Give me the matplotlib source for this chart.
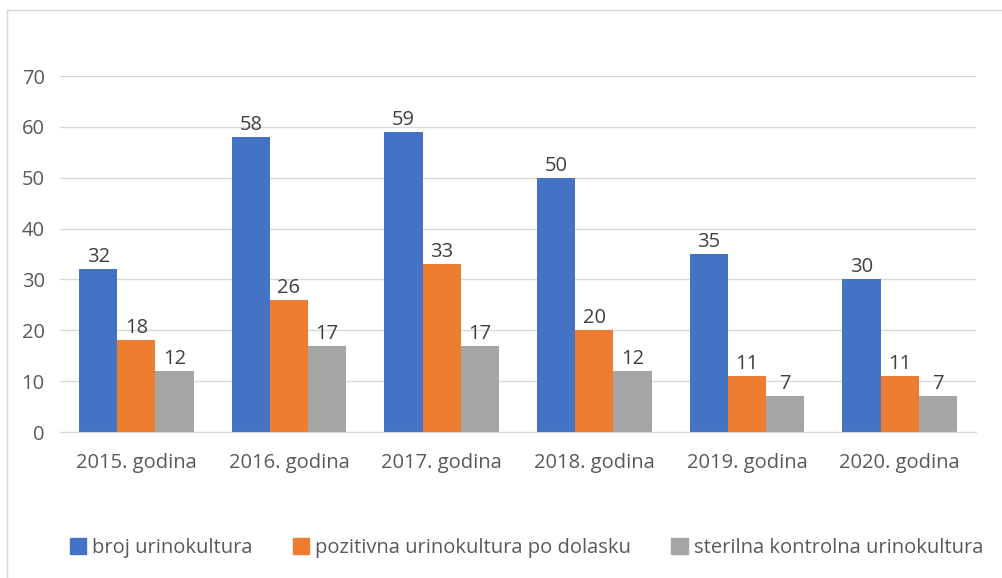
import matplotlib
matplotlib.use("Agg")
import matplotlib.pyplot as plt
import numpy as np
from matplotlib.patches import Patch
from matplotlib.lines import Line2D

categories = ["2015. godina", "2016. godina", "2017. godina", "2018. godina", "2019. godina", "2020. godina"]
series_names = ["broj urinokultura", "pozitivna urinokultura po dolasku", "sterilna kontrolna urinokultura"]
broj = [32, 58, 59, 50, 35, 30]
pozitivna = [18, 26, 33, 20, 11, 11]
sterilna = [12, 17, 17, 12, 7, 7]
colors = ["#4472C4", "#ED7D31", "#A5A5A5"]

plt.rcParams['font.family'] = ['Open Sans', 'DejaVu Sans']
fig = plt.figure(figsize=(10.03, 5.78), dpi=100)
ax = fig.add_axes([60/1003, 1-432/578, 916/1003, 356/578])

x = np.arange(len(categories))
w = 0.25
txtc = "#595959"
fs = 14.5
for i, (vals, name, c) in enumerate(zip([broj, pozitivna, sterilna], series_names, colors)):
    bars = ax.bar(x + (i-1)*w, vals, w, color=c, label=name, zorder=3)
    for b, v in zip(bars, vals):
        ax.text(b.get_x()+b.get_width()/2, v+0.4, str(v), ha='center', va='bottom',
                fontsize=fs, color="#404040")

ax.set_xlim(-0.5, len(categories)-0.5)
ax.set_ylim(0, 70)
ax.set_yticks(range(0, 71, 10))
ax.grid(axis='y', color="#D9D9D9", linewidth=1, zorder=0)
for s in ['top', 'right', 'left']:
    ax.spines[s].set_visible(False)
ax.spines['bottom'].set_color("#D9D9D9")
ax.spines['bottom'].set_zorder(4)
ax.set_xticks(x)
ax.set_xticklabels(categories)
ax.tick_params(axis='both', length=0, labelsize=fs, colors=txtc)
ax.tick_params(axis='y', pad=11)
ax.tick_params(axis='x', pad=15)

handles = [Patch(color=c) for c in colors]
fig.legend(handles, series_names, loc='center', bbox_to_anchor=(0.525, 1-548/578), ncol=3,
           frameon=False, fontsize=fs, labelcolor=txtc, handlelength=0.8, handleheight=0.8,
           handletextpad=0.3, columnspacing=2.0)

# top and left border lines
fig.add_artist(Line2D([7/1003, 7/1003], [0, 1-10/578], transform=fig.transFigure, color="#D9D9D9", lw=1))
fig.add_artist(Line2D([7/1003, 1], [1-10/578, 1-10/578], transform=fig.transFigure, color="#D9D9D9", lw=1))

fig.savefig("out.png", dpi=100)
